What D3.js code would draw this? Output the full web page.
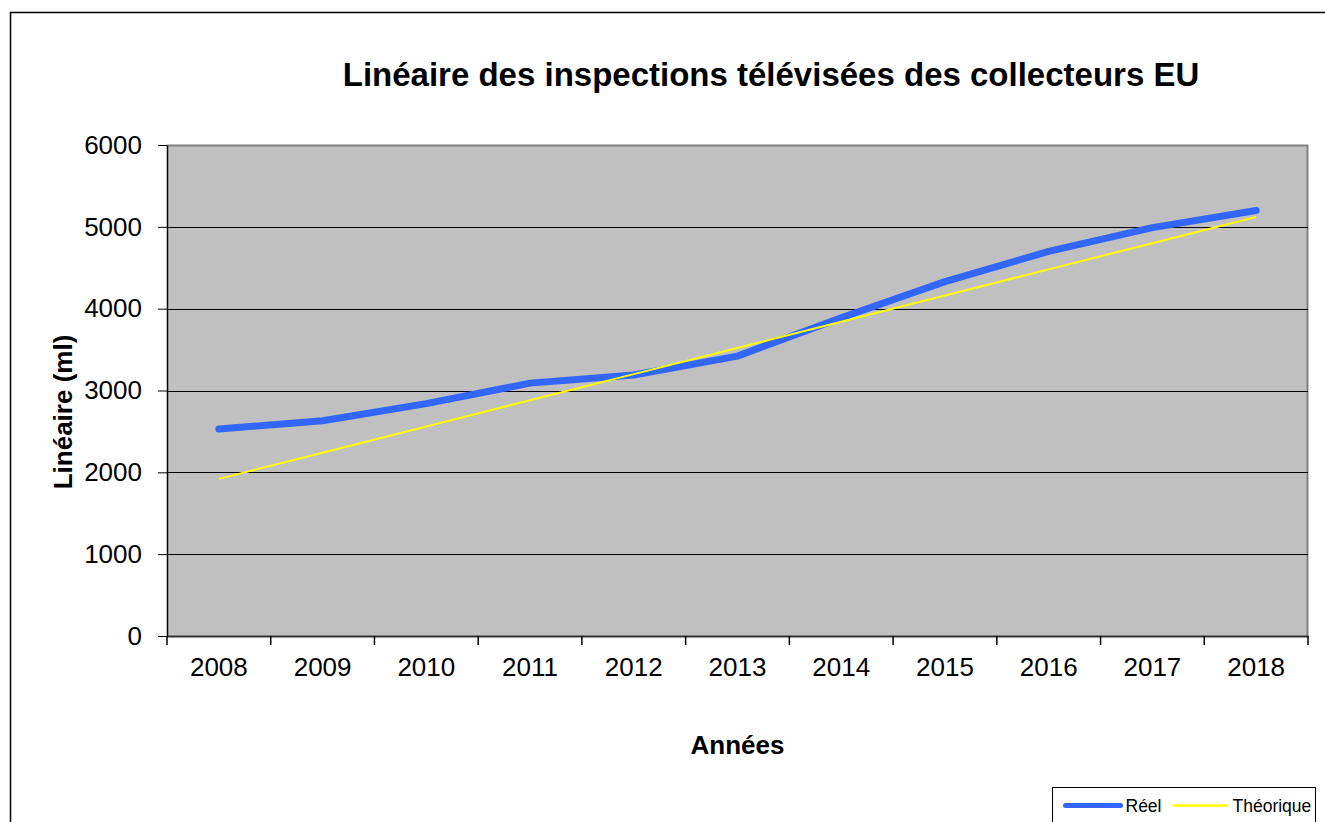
<!DOCTYPE html>
<html>
<head>
<meta charset="utf-8">
<script src="https://cdn.jsdelivr.net/npm/d3@7"></script>
<style>
  body { margin: 0; background: #fff; }
  text { font-family: Arial, "Liberation Sans", sans-serif; fill: #000; }
</style>
</head>
<body>
<div id="plot"></div>
<script>
// data
var years = ['2008','2009','2010','2011','2012','2013','2014','2015','2016','2017','2018'];
var reel = [2530, 2630, 2840, 3090, 3190, 3420, 3890, 4330, 4700, 4990, 5200];
var theorique = [1920, 2240, 2560, 2880, 3200, 3520, 3840, 4160, 4480, 4800, 5120];
var yTicks = [0, 1000, 2000, 3000, 4000, 5000, 6000];

var W = 1325, H = 822;
var margin = {t:145, r:17, b:186, l:167};
var width = W - margin.l - margin.r,
    height = H - margin.t - margin.b;

var svg = d3.select('#plot')
    .append('svg')
    .attr('width', W)
    .attr('height', H);

// outer chart border (runs off the picture right and bottom)
svg.append('rect')
    .attr('x', 10.5).attr('y', 12.5)
    .attr('width', 1400).attr('height', 900)
    .attr('fill', 'none')
    .attr('stroke', '#000')
    .attr('stroke-width', 1.5);

svg.append('text')
    .attr('x', 771).attr('y', 86)
    .attr('text-anchor', 'middle')
    .style('font-size', '33px')
    .style('font-weight', 'bold')
    .text('Linéaire des inspections télévisées des collecteurs EU');

var plot = svg.append('g')
    .attr('transform', 'translate(' + margin.l + ',' + margin.t + ')');

var x = d3.scaleBand().domain(years).range([0, width]);
var y = d3.scaleLinear().domain([0, 6000]).range([height, 0]);

plot.append('rect')
    .attr('width', width).attr('height', height)
    .attr('fill', '#c0c0c0');

// grey frame top and right
plot.append('path')
    .attr('d', 'M0,0.5H' + (width - 0.5) + 'V' + height)
    .attr('fill', 'none')
    .attr('stroke', '#808080')
    .attr('stroke-width', 2);

// gridlines
plot.selectAll('.grid')
    .data(yTicks.filter(function(d){ return d > 0 && d < 6000; }))
    .enter()
    .append('line')
    .attr('class', 'grid')
    .attr('x1', 0).attr('x2', width)
    .attr('y1', function(d){ return Math.round(y(d)) + 0.5; })
    .attr('y2', function(d){ return Math.round(y(d)) + 0.5; })
    .attr('stroke', '#000')
    .attr('stroke-width', 1);

// y axis
var yAxis = plot.append('g')
    .call(d3.axisLeft(y).tickValues(yTicks).tickFormat(d3.format('d'))
        .tickSize(9).tickPadding(16).tickSizeOuter(0));
yAxis.selectAll('text').style('font-size', '26px').style('font-family', 'Arial, "Liberation Sans", sans-serif');
yAxis.select('.domain').attr('stroke', '#000').attr('stroke-width', 1.5);

// x axis: labels centred in bands, ticks on band edges
var xAxis = plot.append('g')
    .attr('transform', 'translate(0,' + height + ')')
    .call(d3.axisBottom(x).tickSize(0).tickPadding(22).tickSizeOuter(0));
xAxis.selectAll('text').style('font-size', '26px').style('font-family', 'Arial, "Liberation Sans", sans-serif');
xAxis.select('.domain').attr('stroke', '#333').attr('stroke-width', 2);

var edges = years.map(function(d){ return x(d); }).concat([width]);
xAxis.selectAll('.edge')
    .data(edges)
    .enter()
    .append('line')
    .attr('class', 'edge')
    .attr('x1', function(d){ return d; }).attr('x2', function(d){ return d; })
    .attr('y1', 0).attr('y2', 9)
    .attr('stroke', '#000')
    .attr('stroke-width', 1.5);

// axis titles
svg.append('text')
    .attr('transform', 'translate(72,' + 412 + ') rotate(-90)')
    .attr('text-anchor', 'middle')
    .style('font-size', '26px')
    .style('font-weight', 'bold')
    .text('Linéaire (ml)');

svg.append('text')
    .attr('x', margin.l + width / 2).attr('y', 754)
    .attr('text-anchor', 'middle')
    .style('font-size', '26px')
    .style('font-weight', 'bold')
    .text('Années');

// lines
function cx(i){ return x(years[i]) + x.bandwidth() / 2; }

var lineGen = d3.line()
    .x(function(d, i){ return cx(i); })
    .y(function(d){ return y(d); });

plot.append('path')
    .datum(reel)
    .attr('d', lineGen)
    .attr('fill', 'none')
    .attr('stroke', '#3366ff')
    .attr('stroke-width', 7)
    .attr('stroke-linecap', 'round')
    .attr('stroke-linejoin', 'round');

plot.append('path')
    .datum(theorique)
    .attr('d', lineGen)
    .attr('fill', 'none')
    .attr('stroke', '#ffff00')
    .attr('stroke-width', 2);

// legend
var legend = svg.append('g').attr('transform', 'translate(1052.5,787.5)');
legend.append('rect')
    .attr('width', 263).attr('height', 60)
    .attr('fill', '#fff')
    .attr('stroke', '#000')
    .attr('stroke-width', 1);

var legendItems = [
    {name:'Réel', color:'#3366ff', w:5, x:13},
    {name:'Théorique', color:'#ffff00', w:2.5, x:120}
];
var li = legend.selectAll('.li')
    .data(legendItems)
    .enter()
    .append('g')
    .attr('class', 'li')
    .attr('transform', function(d){ return 'translate(' + d.x + ',18)'; });
li.append('line')
    .attr('x1', 0).attr('x2', 55)
    .attr('stroke', function(d){ return d.color; })
    .attr('stroke-width', function(d){ return d.w; })
    .attr('stroke-linecap', function(d){ return d.w > 3 ? 'round' : 'butt'; });
li.append('text')
    .attr('x', 60).attr('y', 6.5)
    .style('font-size', '17.5px')
    .text(function(d){ return d.name; });
</script>
</body>
</html>
